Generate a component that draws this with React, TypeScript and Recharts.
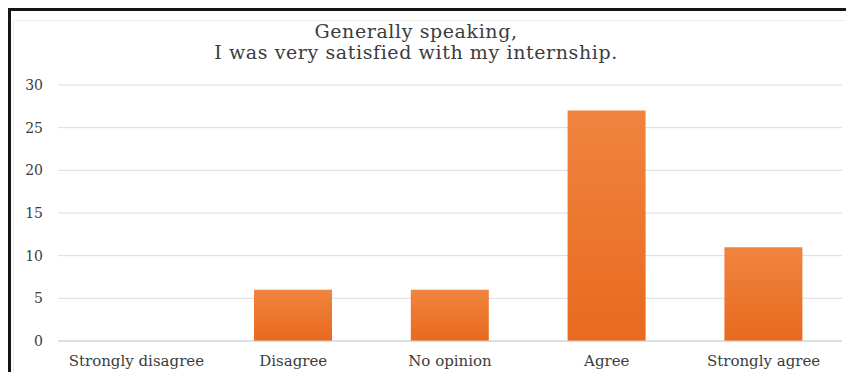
import React from "react";
import { BarChart, Bar, XAxis, YAxis, CartesianGrid } from "recharts";

const categories = ["Strongly disagree", "Disagree", "No opinion", "Agree", "Strongly agree"];
const responses = [0, 6, 6, 27, 11];
const yTicks = [0, 5, 10, 15, 20, 25, 30];

const data = categories.map((name, i) => ({ name, count: responses[i] }));

const serif = "'DejaVu Serif', 'Liberation Serif', serif";

export default function App() {
  return (
    <div
      style={{
        position: "relative",
        width: 843,
        height: 361,
        borderTop: "3px solid #151515",
        borderLeft: "3px solid #151515",
        background: "#fff",
        fontFamily: serif,
      }}
    >
      <div
        style={{
          position: "absolute",
          left: 2,
          top: 9,
          right: 2,
          bottom: 0,
          borderTop: "1px solid #eeeeee",
          borderLeft: "1px solid #eeeeee",
        }}
      />
      <div
        style={{
          position: "absolute",
          left: 0,
          top: 10,
          width: 810,
          textAlign: "center",
          fontSize: 19,
          letterSpacing: 0.6,
          lineHeight: "21px",
          color: "#3c3c3c",
        }}
      >
        <div>Generally speaking,</div>
        <div>I was very satisfied with my internship.</div>
      </div>
      <BarChart
        width={843}
        height={361}
        data={data}
        margin={{ top: 74, right: 12, bottom: 1, left: 0 }}
        barCategoryGap="25%"
        style={{ position: "absolute", left: 0, top: 0 }}
      >
        <defs>
          <linearGradient id="barFill" x1="0" y1="0" x2="0" y2="1">
            <stop offset="0%" stopColor="#f0843f" />
            <stop offset="100%" stopColor="#e86a1e" />
          </linearGradient>
        </defs>
        <CartesianGrid vertical={false} stroke="#dcdcdc" />
        <XAxis
          dataKey="name"
          height={30}
          tickLine={false}
          tickMargin={8}
          axisLine={{ stroke: "#d0d0d0" }}
          tick={{ fill: "#3c3c3c", fontSize: 15, fontFamily: serif }}
          interval={0}
        />
        <YAxis
          width={47}
          domain={[0, 30]}
          ticks={yTicks}
          tickLine={false}
          axisLine={false}
          tickMargin={9}
          tick={{ fill: "#3c3c3c", fontSize: 14, fontFamily: serif }}
        />
        <Bar dataKey="count" fill="url(#barFill)" isAnimationActive={false} />
      </BarChart>
    </div>
  );
}
